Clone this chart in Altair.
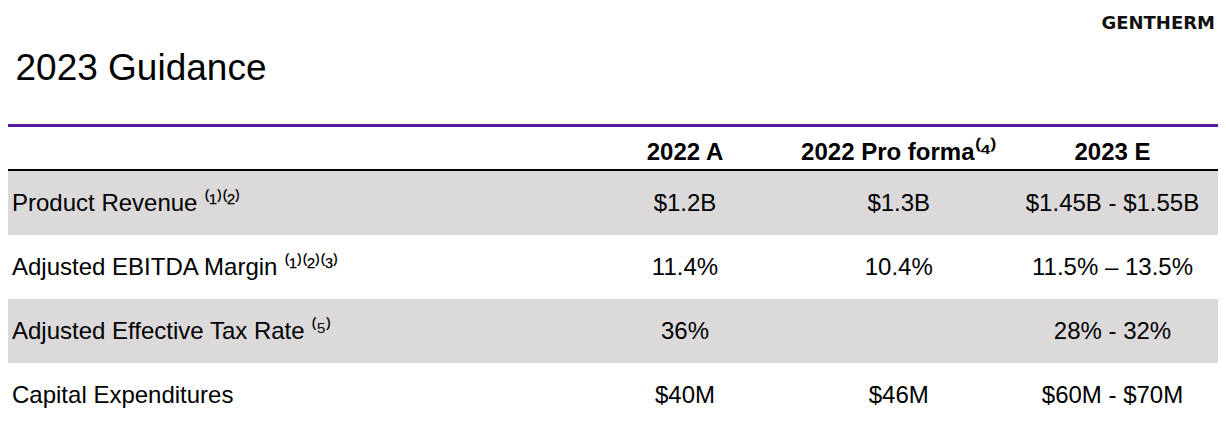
import altair as alt
import pandas as pd

# ---- content ----
title_text = ["2023 Guidance"]
logo_text = ["GENTHERM"]
metrics = [
    "Product Revenue ⁽¹⁾⁽²⁾",
    "Adjusted EBITDA Margin ⁽¹⁾⁽²⁾⁽³⁾",
    "Adjusted Effective Tax Rate ⁽⁵⁾",
    "Capital Expenditures",
]
columns = ["2022 A", "2022 Pro forma⁽⁴⁾", "2023 E"]
col_2022a = ["$1.2B", "11.4%", "36%", "$40M"]
col_proforma = ["$1.3B", "10.4%", "", "$46M"]
col_2023e = ["$1.45B - $1.55B", "11.5% – 13.5%", "28% - 32%", "$60M - $70M"]
shaded = [True, False, True, False]

FONT = "Liberation Sans"

rows_df = pd.DataFrame({"metric": metrics, "shaded": shaded})
cells = []
for col, vals in zip(columns, [col_2022a, col_proforma, col_2023e]):
    for m, v in zip(metrics, vals):
        cells.append({"metric": m, "column": col, "value": v})
cells_df = pd.DataFrame(cells)
header_df = pd.DataFrame({"column": columns})
one = pd.DataFrame({"k": [0]})

yscale = alt.Scale(type="band", domain=metrics, range=[163, 419],
                   paddingInner=0, paddingOuter=0)
xscale = alt.Scale(type="point", domain=columns, range=[677, 1104.5], padding=0)

bands = alt.Chart(rows_df).transform_filter("datum.shaded").mark_rect(
    color="#dbd9da"
).encode(
    y=alt.Y("metric:N", scale=yscale, axis=None),
    x=alt.value(0),
    x2=alt.value(1212),
)

purple = alt.Chart(one).mark_rule(color="#5a1aa0", strokeWidth=3).encode(
    x=alt.value(0), x2=alt.value(1210), y=alt.value(117.5)
)
black = alt.Chart(one).mark_rule(color="#000000", strokeWidth=2).encode(
    x=alt.value(0), x2=alt.value(1210), y=alt.value(162)
)

labels = alt.Chart(rows_df).mark_text(
    align="left", baseline="middle", dy=1, font=FONT, fontSize=24, color="#000000"
).encode(
    y=alt.Y("metric:N", scale=yscale, axis=None),
    x=alt.value(4),
    text="metric:N",
)

values = alt.Chart(cells_df).mark_text(
    align="center", baseline="middle", dy=1, font=FONT, fontSize=24, color="#000000"
).encode(
    y=alt.Y("metric:N", scale=yscale, axis=None),
    x=alt.X("column:N", scale=xscale, axis=None),
    text="value:N",
)

headers = alt.Chart(header_df).mark_text(
    align="center", baseline="middle", font=FONT, fontSize=24, fontWeight="bold",
    color="#000000"
).encode(
    x=alt.X("column:N", scale=xscale, axis=None),
    y=alt.value(145),
    text="column:N",
)

title = alt.Chart(pd.DataFrame({"t": title_text})).mark_text(
    align="left", baseline="alphabetic", font=FONT, fontSize=37, color="#000000"
).encode(x=alt.value(7.5), y=alt.value(71.5), text="t:N")

logo = alt.Chart(pd.DataFrame({"t": logo_text})).mark_text(
    align="right", baseline="alphabetic", font="DejaVu Sans", fontSize=18,
    fontWeight="bold", color="#111111"
).encode(x=alt.value(1207), y=alt.value(20.5), text="t:N")

chart = alt.layer(bands, purple, black, labels, values, headers, title, logo).properties(
    width=1210, height=400, padding=0,
    autosize=alt.AutoSizeParams(type="none"),
    background="white",
).configure_view(stroke=None)

chart.save("out.html", embed_options={"renderer": "svg", "actions": False})
